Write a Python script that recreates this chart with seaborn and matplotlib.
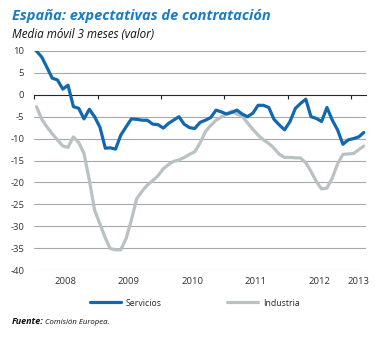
import numpy as np
import pandas as pd
import matplotlib
matplotlib.use("Agg")
import matplotlib.pyplot as plt
import seaborn as sns

# Monthly series, January 2008 - March 2013 (plotted mid-month)
months = pd.date_range("2008-01-01", periods=63, freq="MS") + pd.Timedelta(days=14)

servicios = [
    10.0, 8.6, 6.3, 3.8, 3.4, 1.3, 2.2, -2.7, -3.1, -5.5,
    -3.3, -5.0, -7.4, -12.2, -12.1, -12.4, -9.2, -7.3, -5.5, -5.6,
    -5.8, -5.8, -6.7, -6.8, -7.6, -6.5, -5.8, -5.0, -6.7, -7.5,
    -7.7, -6.3, -5.8, -5.2, -3.5, -3.9, -4.4, -4.0, -3.5, -4.4,
    -5.0, -4.2, -2.4, -2.4, -2.9, -5.6, -6.9, -8.0, -6.1, -3.1,
    -2.0, -1.0, -5.0, -5.4, -6.1, -2.9, -5.8, -8.0, -11.3, -10.3,
    -10.0, -9.6, -8.6,
]

industria = [
    -2.7, -5.6, -7.3, -8.9, -10.3, -11.7, -12.0, -9.6, -10.9, -13.4,
    -19.5, -26.3, -29.5, -32.7, -35.1, -35.4, -35.4, -32.8, -28.6, -23.7,
    -22.0, -20.6, -19.6, -18.5, -16.9, -15.9, -15.2, -14.9, -14.3, -13.6,
    -13.0, -11.0, -8.4, -7.0, -5.8, -5.1, -4.3, -3.7, -4.4, -4.9,
    -6.4, -7.9, -9.2, -10.3, -11.1, -12.2, -13.6, -14.3, -14.3, -14.4,
    -14.4, -15.5, -17.5, -19.8, -21.5, -21.3, -19.0, -15.8, -13.6, -13.5,
    -13.4, -12.5, -11.7,
]

year_labels = ["2008", "2009", "2010", "2011", "2012", "2013"]
label_dates = pd.to_datetime(["2008-07-01", "2009-07-01", "2010-07-01",
                              "2011-07-01", "2012-07-01", "2013-02-10"])
year_starts = pd.to_datetime(["2008-01-01", "2009-01-01", "2010-01-01",
                              "2011-01-01", "2012-01-01", "2013-01-01"])
y_ticks = list(range(-40, 11, 5))

blue = "#1268b0"
grey = "#b8c2c2"

df = pd.DataFrame({"fecha": np.tile(months, 2),
                   "valor": servicios + industria,
                   "serie": ["Servicios"] * 63 + ["Industria"] * 63})

sns.set_style("white")
plt.rcParams["font.family"] = ["Open Sans", "DejaVu Sans"]
plt.rcParams["axes.unicode_minus"] = False

fig = plt.figure(figsize=(3.91, 3.38), dpi=100)
ax = fig.add_axes([34 / 391, 68 / 338, 332 / 391, 219 / 338])

sns.lineplot(data=df, x="fecha", y="valor", hue="serie",
             palette={"Servicios": blue, "Industria": grey},
             hue_order=["Industria", "Servicios"],
             linewidth=2.3, ax=ax, legend=False)

ax.set_ylim(-40, 10)
ax.set_xlim(pd.Timestamp("2008-01-01"), pd.Timestamp("2013-03-28"))
ax.set_yticks(y_ticks)
ax.set_yticklabels([str(v) for v in y_ticks])
ax.set_xticks(label_dates)
ax.set_xticklabels(year_labels)
ax.tick_params(axis="both", length=0, labelsize=6.8, colors="#333333")
ax.tick_params(axis="y", pad=7)
ax.tick_params(axis="x", pad=5)
ax.set_xlabel("")
ax.set_ylabel("")
for s in ax.spines.values():
    s.set_visible(False)

for v in y_ticks:
    if v != 0:
        ax.axhline(v, color="#a8a8a8", linewidth=0.8, zorder=0)

# zero line with year markers
zero_axis = ax.secondary_xaxis(0.8)
zero_axis.set_xticks(year_starts)
zero_axis.set_xticklabels([])
zero_axis.tick_params(direction="in", length=3, width=0.8, color="#222222")
zero_axis.spines["bottom"].set_color("#222222")
zero_axis.spines["bottom"].set_linewidth(0.9)

handles = [plt.Line2D([], [], color=blue, linewidth=2.3),
           plt.Line2D([], [], color=grey, linewidth=2.3)]
fig.legend(handles, ["Servicios", "Industria"], loc="center",
           bbox_to_anchor=(195 / 391, 1 - 303 / 338), ncol=2, frameon=False,
           fontsize=6.3, handlelength=3.5, handletextpad=0.55,
           columnspacing=7.5)

fig.text(12 / 391, 1 - 16 / 338, "España: expectativas de contratación",
         fontsize=10.5, fontweight="bold", fontstyle="italic", color="#1a7dc4",
         va="center", ha="left")
fig.text(12 / 391, 1 - 34 / 338, "Media móvil 3 meses (valor)",
         fontsize=8.4, fontstyle="italic", color="#111111", va="center", ha="left")
fig.text(12 / 391, 1 - 322 / 338, "Fuente:", fontsize=6.5, fontweight="bold",
         fontstyle="italic", color="#111111", va="center", ha="left")
fig.text(45 / 391, 1 - 322 / 338, "Comisión Europea.", fontsize=5.6,
         fontstyle="italic", color="#111111", va="center", ha="left")

fig.savefig("out.png", dpi=100)
